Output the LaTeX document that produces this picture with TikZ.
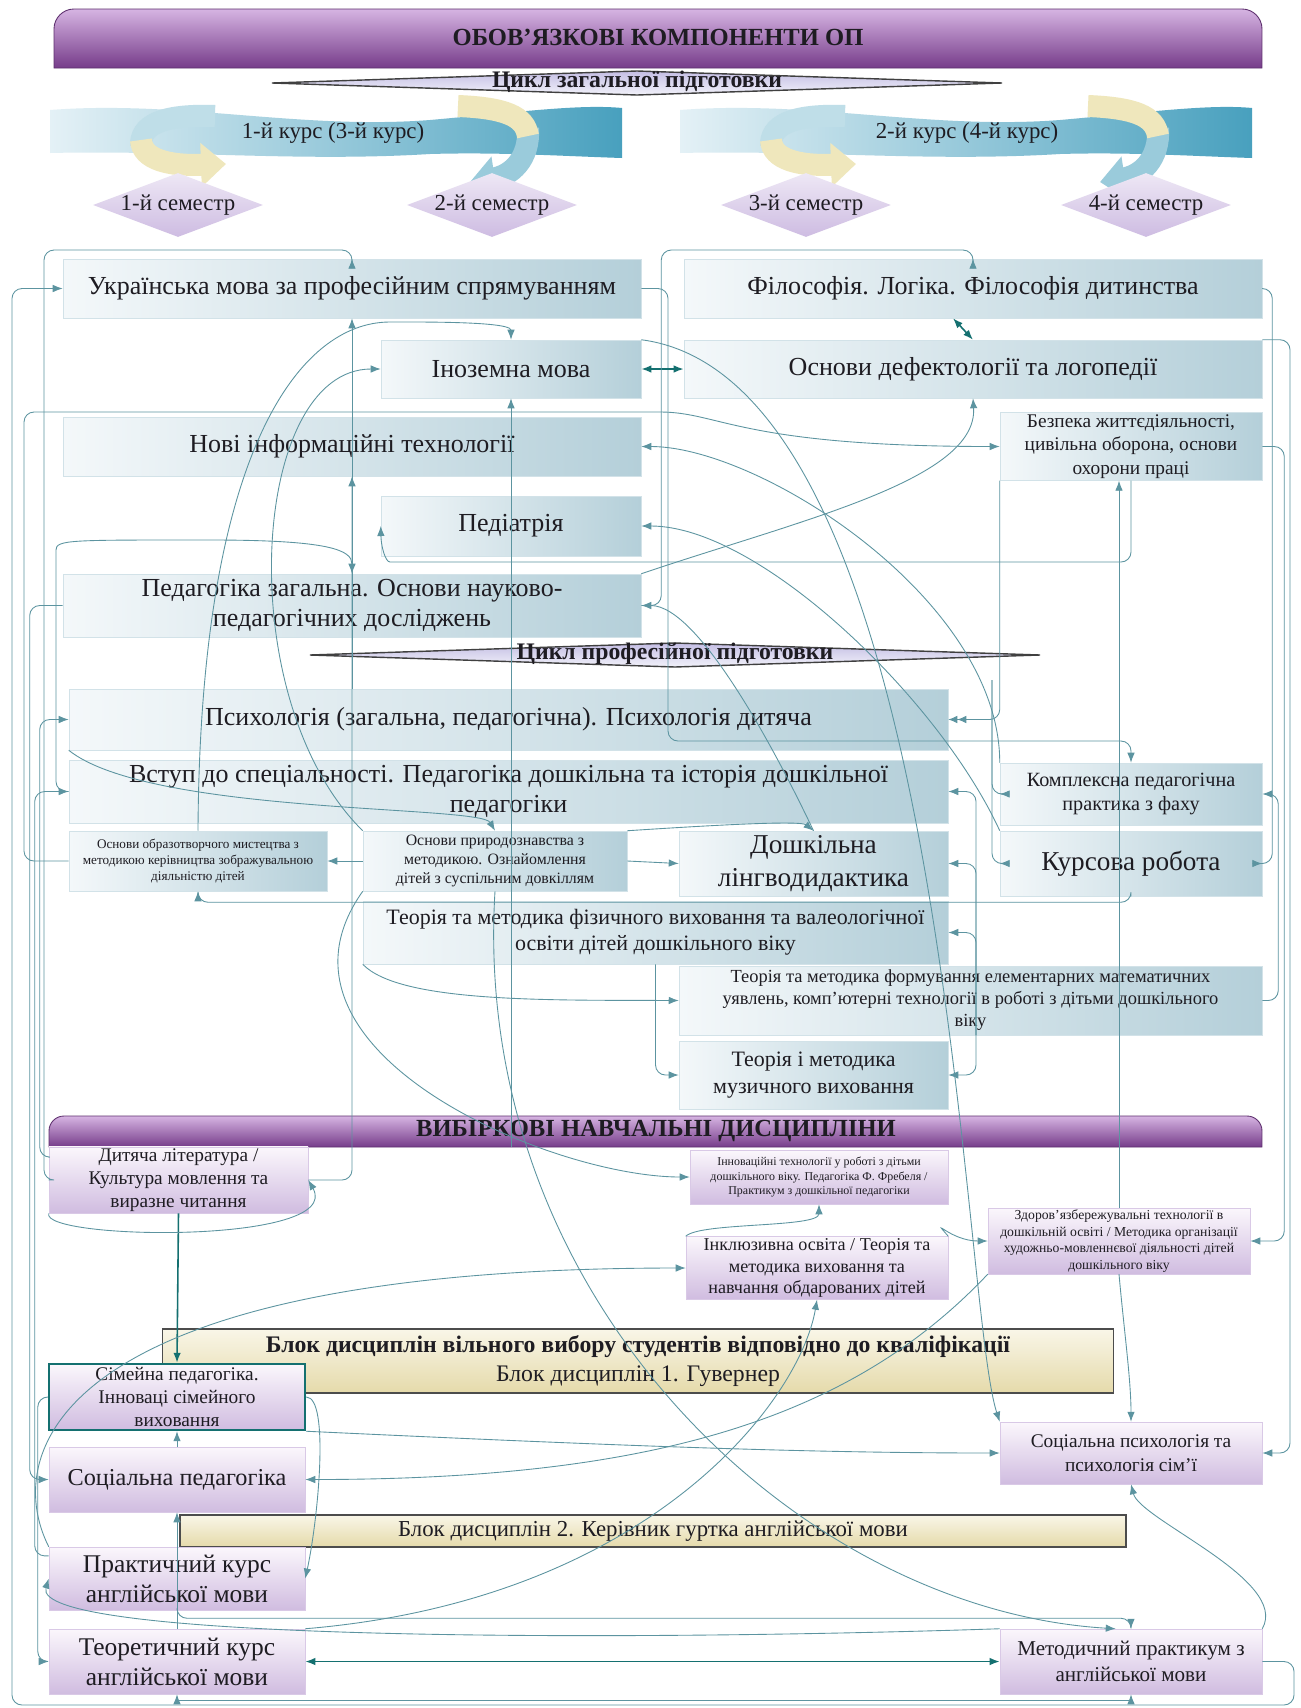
\documentclass[tikz,border=0pt]{standalone}
\usepackage{fontspec}
\setmainfont{Liberation Serif}
\usepackage{graphicx}
\usetikzlibrary{arrows.meta,shapes.geometric}

\definecolor{boxl}{RGB}{244,248,250}
\definecolor{boxr}{RGB}{180,207,217}
\definecolor{elecT}{RGB}{251,247,252}
\definecolor{elecB}{RGB}{208,188,224}
\definecolor{barT}{RGB}{214,180,226}
\definecolor{barB}{RGB}{118,60,138}
\definecolor{blockT}{RGB}{249,246,232}
\definecolor{blockB}{RGB}{229,218,170}
\definecolor{linkc}{RGB}{92,148,160}
\definecolor{darklink}{RGB}{20,112,112}
\definecolor{semc}{RGB}{206,188,226}
\definecolor{cycT}{RGB}{196,190,228}
\definecolor{cycB}{RGB}{242,242,250}
\definecolor{ribL}{RGB}{228,241,246}
\definecolor{ribR}{RGB}{72,160,190}
\definecolor{cream}{RGB}{239,231,188}
\definecolor{inkc}{RGB}{30,28,34}

\tikzset{
  sz/.style 2 args={minimum width=#1*0.2mm, minimum height=#2*0.2mm},
  fs/.style 2 args={font=\fontsize{#1}{#2}\selectfont},
  subj/.style={rectangle, left color=boxl, right color=boxr, draw=boxr!60!white,
    line width=0.3pt, align=center, inner sep=1pt, text=inkc, fs={14.8}{17.5}},
  elect/.style={rectangle, top color=elecT, bottom color=elecB, draw=elecB!80!white,
    line width=0.3pt, align=center, inner sep=1pt, text=inkc},
  blockbox/.style={rectangle, top color=blockT, bottom color=blockB, draw=black!70,
    line width=1pt, align=center, inner sep=1pt, text=inkc, fs={13.5}{16}},
  bartext/.style={font=\bfseries\fontsize{14}{16}\selectfont, text=inkc},
  cyctext/.style={font=\bfseries\fontsize{13.5}{16}\selectfont, text=inkc},
  semdia/.style={diamond, inner sep=0pt, sz={170}{64}, top color=semc!35!white,
    bottom color=semc},
  semtext/.style={fs={13}{15}, text=inkc},
  curl/.style={line width=4.4mm, -{Triangle[length=5mm,width=8.5mm]}},
  link/.style={draw=linkc, line width=0.5pt, rounded corners=2mm,
    -{Latex[length=2mm,width=1.5mm]}},
  twoway/.style={{Latex[length=2mm,width=1.5mm]}-{Latex[length=2mm,width=1.5mm]}},
  dbl/.style={-{Latex[length=1.8mm,width=1.5mm]Latex[length=1.8mm,width=1.5mm]}},
  dark/.style={draw=darklink, line width=0.9pt}
}

\begin{document}
\begin{tikzpicture}[x=0.2mm,y=-0.2mm]
\fill[white] (0,0) rectangle (1301,1708);
\useasboundingbox (0,0) rectangle (1301,1708);

% headline of the compulsory part
\path[top color=barT, bottom color=barB, draw=barB!80!black, line width=0.5pt]
  (54,68) [rounded corners=4mm] -- (54,9) -- (1262,9) [sharp corners] -- (1262,68) -- cycle;
\node[bartext] (topbar) at (658,37) {ОБОВ’ЯЗКОВІ КОМПОНЕНТИ ОП};

\path[top color=cycT, bottom color=cycB, draw=black!75, line width=0.8pt]
  (272,83) -- (637,71) -- (1002,83) -- (637,95) -- cycle;
\node[cyctext] (gencyc) at (637,82) {Цикл загальної підготовки};

% course ribbons
\foreach \dx in {0,126}{
\begin{scope}[xshift=\dx mm]
\shade[left color=ribL, right color=ribR]
  (50,110) .. controls (180,100) and (300,130) .. (430,120)
  .. controls (520,112) and (580,104) .. (622,108) -- (622,158)
  .. controls (560,156) and (500,152) .. (430,154)
  .. controls (300,162) and (180,150) .. (50,153) -- cycle;
\draw[line width=4.4mm, draw=ribR!35!white] (215,116) .. controls (160,114) and (140,126) .. (141,146);
\draw[curl, draw=cream] (141,140) .. controls (142,160) and (170,166) .. (226,164);
\draw[curl, draw=ribR!55!white] (528,128) .. controls (530,160) and (510,176) .. (470,182);
\draw[line width=4.4mm, draw=cream] (458,106) .. controls (505,108) and (525,116) .. (528,136);
\end{scope}}
\node[fs={13}{15}, text=inkc] (course1) at (333,133) {1-й курс (3-й курс)};
\node[fs={13}{15}, text=inkc] (course2) at (967,133) {2-й курс (4-й курс)};

\foreach \i/\x/\lbl in {1/178/{1-й семестр},2/492/{2-й семестр},3/806/{3-й семестр},4/1146/{4-й семестр}}{
  \node[semdia] (sem\i) at (\x,205) {};
  \node[semtext] (semt\i) at (sem\i) {\lbl};
}

% general training cycle
\node[subj, sz={578}{59}] (ukr) at (352,288.5) {Українська мова за професійним спрямуванням};
\node[subj, sz={578}{59}] (phil) at (973,288.5) {Філософія. Логіка. Філософія дитинства};
\node[subj, sz={260}{58}] (foreign) at (511,369) {Іноземна мова};
\node[subj, sz={578}{58}] (defect) at (973,369) {Основи дефектології та логопедії};
\node[subj, sz={578}{59}] (info) at (352,446.5) {Нові інформаційні технології};
\node[subj, sz={262}{65}, fs={11}{13.5}] (safety) at (1131,446.5) {Безпека життєдіяльності,\\цивільна оборона, основи\\охорони праці};
\node[subj, sz={260}{60}] (pediatr) at (511,526) {Педіатрія};
\node[subj, sz={578}{63}] (pedgen) at (352,605.5) {Педагогіка загальна. Основи науково-\\педагогічних досліджень};

\path[top color=cycT, bottom color=cycB, draw=black!75, line width=0.8pt]
  (310,655) -- (675,643) -- (1040,655) -- (675,667) -- cycle;
\node[cyctext] (profcyc) at (675,654) {Цикл професійної підготовки};

% professional training cycle
\node[subj, sz={879}{61}] (psych) at (508.5,719.5) {Психологія (загальна, педагогічна). Психологія дитяча};
\node[subj, sz={879}{63}] (intro) at (508.5,791.5) {Вступ до спеціальності. Педагогіка дошкільна та історія дошкільної\\педагогіки};
\node[subj, sz={262}{62}, fs={11.5}{14}] (practice) at (1131,794) {Комплексна педагогічна\\практика з фаху};
\node[subj, sz={258}{60}, fs={7.5}{9}] (art) at (198,861) {Основи образотворчого мистецтва з\\методикою керівництва зображувальною\\діяльністю дітей};
\node[subj, sz={264}{60}, fs={9}{11}] (nature) at (495,861) {Основи природознавства з\\методикою. Ознайомлення\\дітей з суспільним довкіллям};
\node[subj, sz={269}{65}, fs={15.5}{18.5}] (ling) at (813.5,863.5) {Дошкільна\\лінгводидактика};
\node[subj, sz={262}{65}, fs={15.5}{18.5}] (kurs) at (1131,863.5) {Курсова робота};
\node[subj, sz={585}{63}, fs={12.5}{15}] (phys) at (655.5,932.5) {Теорія та методика фізичного виховання та валеологічної\\освіти дітей дошкільного віку};
\node[subj, sz={583}{69}, fs={10.5}{12.5}] (math) at (970.5,1000.5) {Теорія та методика формування елементарних математичних\\уявлень, комп'ютерні технології в роботі з дітьми дошкільного\\віку};
\node[subj, sz={269}{68}, fs={12.5}{15}] (music) at (813.5,1075) {Теорія і методика\\музичного виховання};

% elective part
\path[top color=barT, bottom color=barB, draw=barB!80!black, line width=0.5pt]
  (49,1147) [rounded corners=3mm] -- (49,1116) -- (1262,1116) [sharp corners] -- (1262,1147) -- cycle;
\node[bartext] (electbar) at (656,1131) {ВИБІРКОВІ НАВЧАЛЬНІ ДИСЦИПЛІНИ};

\node[elect, sz={259}{64}, fs={11}{13}] (litchild) at (178.5,1180) {Дитяча література /\\Культура мовлення та\\виразне читання};
\node[elect, sz={258}{54}, fs={6.8}{8.2}] (innov) at (819,1177) {Інноваційні технології у роботі з дітьми\\дошкільного віку. Педагогіка Ф. Фребеля /\\Практикум з дошкільної педагогіки};
\node[elect, sz={262}{65}, fs={7.8}{9.4}] (health) at (1119,1241) {Здоров’язбережувальні технології в\\дошкільній освіті / Методика організації\\художньо-мовленнєвої діяльності дітей\\дошкільного віку};
\node[elect, sz={262}{62}, fs={10.3}{12.4}] (inclus) at (817,1268) {Інклюзивна освіта / Теорія та\\методика виховання та\\навчання обдарованих дітей};
\node[blockbox, sz={951}{64}] (block1) at (638,1361) {\textbf{Блок дисциплін вільного вибору студентів відповідно до кваліфікації}\\Блок дисциплін 1. Гувернер};
\node[elect, sz={256}{66}, fs={11}{13}, draw=darklink, line width=1.4pt] (family) at (177,1397) {Сімейна педагогіка.\\Інноваці сімейного\\виховання};
\node[elect, sz={262}{62}, fs={11}{13.5}] (socpsy) at (1131,1453) {Соціальна психологія та\\психологія сім’ї};
\node[elect, sz={256}{65}, fs={13.8}{16}] (socped) at (177,1479.5) {Соціальна педагогіка};
\node[blockbox, sz={946}{32}, fs={13}{15}] (block2) at (653,1531) {Блок дисциплін 2. Керівник гуртка англійської мови};
\node[elect, sz={256}{63}, fs={14.5}{17}] (engpr) at (177,1578.5) {Практичний курс\\англійської мови};
\node[elect, sz={256}{65}, fs={14.5}{17}] (ength) at (177,1661.5) {Теоретичний курс\\англійської мови};
\node[elect, sz={262}{65}, fs={12}{14.5}] (engmeth) at (1131,1661.5) {Методичний практикум з\\англійської мови};

\coordinate (hubl) at (976,1035);
\coordinate (hubr) at (992,680);

% links
\draw[link] (engmeth.east) -| (1294,1705) -| (12,288.5) -- (ukr.west);
\draw[link, twoway, rounded corners=0pt] (engmeth.south) -- ++(0,6) -| (ength.south);
\draw[link, twoway, dark] (ength.east) -- (engmeth.west);
\draw[link] (engpr.south) -- ++(0,8) -| (engmeth.north);
\draw[link] (engmeth.north west) .. controls (600,1642) and (30,1640) .. (engpr.west);
\draw[link] (family.east) .. controls (330,1397) and (318,1520) .. (engpr.east);
\draw[link] (family.west) -- ++(-10,0) |- (ength.west);
\draw[link] (pedgen.west) -- ++(-33,0) |- (socped.west);
\draw[link] (health.south west) .. controls (850,1420) and (650,1479.5) .. (socped.east);
\draw[link] (family.south east) .. controls (600,1445) and (800,1453) .. (socpsy.west);
\draw[link] (health.south) .. controls (1124,1330) and (1131,1380) .. (socpsy.north);
\draw[link] (engmeth.north east) .. controls (1290,1580) and (1140,1520) .. (socpsy.south);
\draw[link] (socped.north) -- (family.south);
\draw[link] (ength.north) -- (socped.south);
\draw[link, dark] (litchild.south) -- (family.north);
\draw[link] (litchild.south west) .. controls (40,1240) and (345,1245) .. (litchild.east);
\draw[link] (nature.south west) .. controls (250,1050) and (550,1177) .. (innov.west);
\draw[link] (inclus.north west) .. controls (700,1222) and (819,1228) .. (innov.south);
\draw[link] (engpr.north west) .. controls (0,1450) and (60,1268) .. (inclus.west);
\draw[link] (ength.north east) .. controls (650,1600) and (800,1400) .. (inclus.south);
\draw[link] (inclus.north east) .. controls (930,1215) and (950,1241) .. (health.west);
\draw[link] (safety.east) -- ++(22,0) |- (health.east);
\draw[link] (health.north) -- (health.north |- safety.south);
\draw[link] (hubl) |- (intro.east);
\draw[link] (hubl) |- (ling.east);
\draw[link] (hubl) |- (phys.east);
\draw[link] (hubl) |- (music.east);
\draw[link] (hubr) |- (practice.west);
\draw[link] (hubr) |- (kurs.west);
\draw[link, dbl] (safety.south west) |- (psych.east);
\draw[link] (ukr.east) -| (668,741) -| (practice.north);
\draw[link, twoway, dark] (defect.west) -- (foreign.east);
\draw[link, twoway, dark] ([xshift=-4mm]phil.south) -- (defect.north);
\draw[link] (ukr.south |- psych.north) -- (ukr.south);
\draw[link] (litchild.east) -| (info.south);
\draw[link] (intro.west) -| (56,560) .. controls (56,540) and (70,540) .. (200,540) .. controls (330,540) and (352,550) .. (pedgen.north);
\draw[link] (nature.north west) .. controls (230,700) and (250,369) .. (foreign.west);
\draw[link] (art.north) .. controls (200,450) and (300,322) .. (400,322) .. controls (480,322) and (511,325) .. (foreign.north);
\draw[link] (foreign.south |- litchild.north) -- (foreign.south);
\draw[link] (practice.north west) .. controls (1000,600) and (760,446.5) .. (info.east);
\draw[link] (kurs.north west) .. controls (940,700) and (760,526) .. (pediatr.east);
\draw[link] (ling.north) .. controls (780,760) and (700,605.5) .. (pedgen.east);
\draw[link] (safety.south) |- (400,562) .. controls (385,562) and (381,545) .. (pediatr.west);
\draw[link] (pedgen.north east) .. controls (800,520) and (978,480) .. (defect.south);
\draw[link] (art.west) -| (24,412) -- (650,412) .. controls (720,412) and (740,446.5) .. (safety.west);
\draw[link] (litchild.west) -| (44,250) -| (ukr.north);
\draw[link] (engpr.170) -- ++(-14,0) |- (intro.west);
\draw[link] (litchild.170) -- ++(-9,0) |- (psych.west);
\draw[link] (nature.west) -- (art.east);
\draw[link] (nature.east) -- (ling.west);
\draw[link] (kurs.south) -- ++(0,6) -| (art.south);
\draw[link] (psych.south west) .. controls (150,815) and (480,805) .. (nature.north);
\draw[link] (nature.north east) .. controls (700,826) and (800,820) .. (ling.north);
\draw[link] (phys.south west) .. controls (400,1003) and (550,1000) .. (math.west);
\draw[link] (phys.south) |- (music.west);
\draw[link] (defect.north east) -| (1290,1453) -- (socpsy.east);
\draw[link] (math.east) -- ++(16,0) |- (practice.east);
\draw[link] (phil.east) -- ++(10,0) |- (kurs.east);
\draw[link] (pedgen.east) -- ++(20,0) |- (973,250) -- (phil.north);
\draw[link] (foreign.north east) .. controls (950,380) and (960,1300) .. (socpsy.north west);
\draw[link] (nature.south) .. controls (470,1300) and (800,1610) .. (engmeth.115);
\end{tikzpicture}
\end{document}
